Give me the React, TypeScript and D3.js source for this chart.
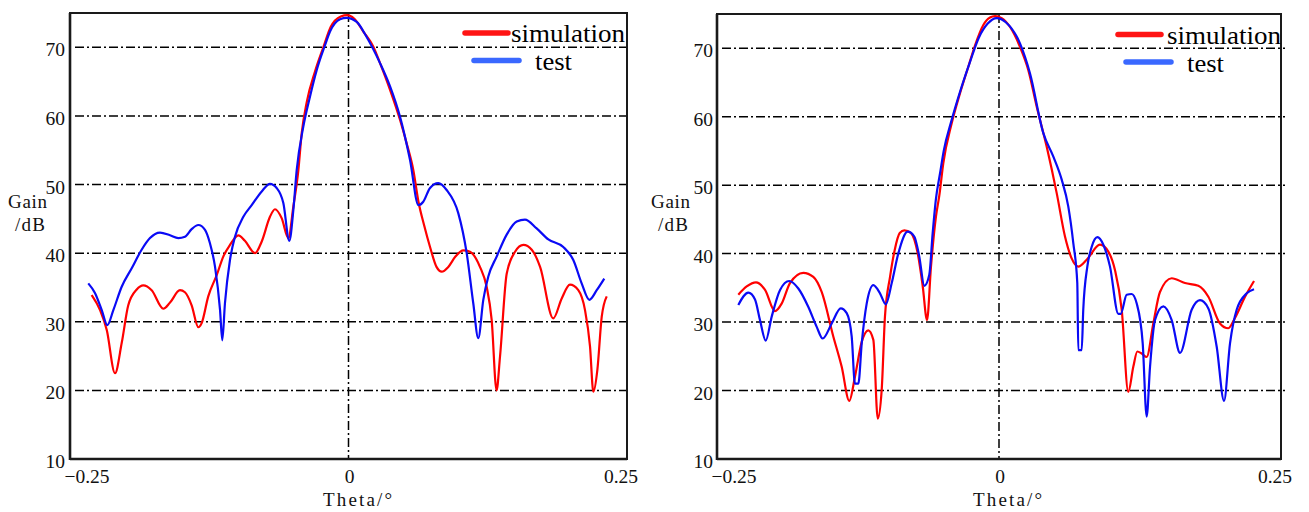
import React from 'react';
import * as d3 from 'd3';

type Pt = [number, number];

const X_TICKS: number[] = [-0.25, 0, 0.25];
const X_TICK_LABELS: string[] = ['−0.25', '0', '0.25'];
const Y_TICKS: number[] = [10, 20, 30, 40, 50, 60, 70];
const Y_GRID: number[] = [20, 30, 40, 50, 60, 70];
const SERIES_NAMES: string[] = ['simulation', 'test'];

const leftSimulation: Pt[] = [
  [-0.2305, 33.9], [-0.223, 31.7], [-0.217, 28.8], [-0.2096, 22.5], [-0.2036, 26.9], [-0.1977, 32.4],
  [-0.1901, 34.7], [-0.1842, 35.3], [-0.1767, 34.6], [-0.1662, 31.9], [-0.1602, 32.8], [-0.1513, 34.6],
  [-0.1468, 34.3], [-0.1408, 32.4], [-0.1348, 29.2], [-0.1318, 29.8], [-0.1259, 33.7], [-0.1183, 36.8],
  [-0.1124, 39.5], [-0.1064, 41.2], [-0.0989, 42.6], [-0.093, 41.8], [-0.0839, 40.0], [-0.0779, 41.7],
  [-0.0705, 45.3], [-0.066, 46.4], [-0.06, 45.1], [-0.054, 42.2], [-0.0495, 46.8], [-0.045, 52.1],
  [-0.042, 57.5], [-0.0375, 62.0], [-0.03, 66.5], [-0.0226, 70.0], [-0.0159, 73.0], [-0.0069, 74.5],
  [-0.001, 74.7], [0.005, 74.2], [0.0133, 72.3], [0.0223, 70.1], [0.0283, 67.7], [0.0373, 63.8],
  [0.0463, 59.4], [0.0522, 56.0], [0.0582, 52.1], [0.0628, 47.5], [0.068, 44.0], [0.0732, 40.9],
  [0.079, 38.0], [0.0837, 37.3], [0.0896, 38.0], [0.096, 39.5], [0.1031, 40.4], [0.1091, 40.2],
  [0.118, 38.0], [0.124, 35.1], [0.1285, 30.3], [0.1329, 20.0], [0.136, 24.9], [0.142, 37.0],
  [0.1495, 40.2], [0.157, 41.2], [0.1645, 40.5], [0.172, 38.0], [0.1838, 30.5], [0.1914, 33.4],
  [0.1988, 35.4], [0.2063, 34.6], [0.2123, 31.7], [0.2168, 26.4], [0.2198, 19.8], [0.2234, 23.0],
  [0.2273, 30.7], [0.2318, 33.7],
];

const leftTest: Pt[] = [
  [-0.2336, 35.6], [-0.2276, 34.2], [-0.2215, 31.7], [-0.2165, 29.5], [-0.2111, 31.7], [-0.2036, 35.1],
  [-0.1946, 37.8], [-0.1857, 40.5], [-0.1782, 42.2], [-0.1692, 43.0], [-0.1602, 42.6], [-0.1528, 42.2],
  [-0.1468, 42.4], [-0.1408, 43.5], [-0.1348, 44.1], [-0.1288, 43.4], [-0.1243, 41.4], [-0.1198, 38.0],
  [-0.1153, 31.7], [-0.1133, 27.3], [-0.1109, 32.7], [-0.1064, 39.0], [-0.1019, 42.4], [-0.0944, 45.3],
  [-0.0869, 47.0], [-0.0779, 49.0], [-0.0705, 50.1], [-0.0645, 49.5], [-0.0585, 47.3], [-0.0531, 41.8],
  [-0.0495, 46.3], [-0.0465, 52.1], [-0.0406, 58.4], [-0.0346, 62.8], [-0.0285, 66.7], [-0.0211, 70.3],
  [-0.0166, 72.3], [-0.0076, 74.1], [-0.0016, 74.3], [0.0074, 73.7], [0.0163, 71.5], [0.0283, 67.7],
  [0.0373, 64.3], [0.0462, 59.9], [0.0552, 53.6], [0.0628, 47.0], [0.0671, 47.5], [0.0732, 49.5],
  [0.0806, 50.2], [0.0881, 49.2], [0.0986, 45.8], [0.1061, 40.0], [0.112, 32.7], [0.1165, 27.6],
  [0.121, 33.2], [0.1255, 36.6], [0.133, 39.5], [0.142, 42.7], [0.151, 44.6], [0.1584, 44.9],
  [0.1689, 43.6], [0.1794, 42.0], [0.1928, 40.9], [0.2018, 39.0], [0.2093, 35.6], [0.2162, 33.2],
  [0.2228, 34.6], [0.2296, 36.3],
];

const rightSimulation: Pt[] = [
  [-0.2311, 34.0], [-0.2237, 35.2], [-0.2154, 35.8], [-0.2074, 34.7], [-0.1986, 31.6], [-0.1927, 32.7],
  [-0.1853, 35.7], [-0.1735, 37.2], [-0.1646, 36.6], [-0.1572, 34.4], [-0.1469, 27.9], [-0.1395, 23.5],
  [-0.1327, 18.5], [-0.1277, 22.0], [-0.1217, 27.1], [-0.1159, 28.8], [-0.1114, 27.4], [-0.1075, 15.9],
  [-0.104, 20.1], [-0.1011, 30.8], [-0.0966, 36.6], [-0.0925, 40.5], [-0.088, 43.0], [-0.0839, 43.4],
  [-0.078, 43.0], [-0.072, 40.0], [-0.0676, 35.2], [-0.0638, 30.3], [-0.0603, 38.1], [-0.0559, 45.4],
  [-0.0529, 48.5], [-0.0494, 53.2], [-0.042, 59.0], [-0.0346, 63.4], [-0.0272, 67.3], [-0.0213, 70.4],
  [-0.0139, 73.4], [-0.008, 74.5], [-0.0035, 74.7], [0.0024, 74.4], [0.0098, 73.1], [0.0186, 70.2],
  [0.026, 66.8], [0.0334, 61.5], [0.0423, 55.6], [0.0512, 48.8], [0.0585, 42.5], [0.0644, 39.3],
  [0.0703, 38.1], [0.0777, 39.1], [0.0895, 41.3], [0.0969, 40.3], [0.1028, 37.6], [0.1088, 31.8],
  [0.1146, 19.8], [0.1191, 23.5], [0.1226, 25.7], [0.1265, 25.4], [0.1309, 24.9], [0.1368, 29.8],
  [0.1427, 34.4], [0.1531, 36.4], [0.1649, 35.7], [0.1767, 35.3], [0.1856, 33.7], [0.1959, 29.8],
  [0.2033, 29.1], [0.2092, 30.6], [0.2181, 33.7], [0.2261, 36.0],
];

const rightTest: Pt[] = [
  [-0.2311, 32.5], [-0.2222, 34.3], [-0.2163, 33.3], [-0.2119, 30.3], [-0.2068, 27.3], [-0.2015, 30.8],
  [-0.1941, 34.7], [-0.1859, 36.0], [-0.1779, 34.9], [-0.169, 32.2], [-0.1616, 29.3], [-0.1563, 27.6],
  [-0.1483, 29.8], [-0.1403, 32.0], [-0.135, 31.3], [-0.1306, 27.9], [-0.1277, 21.0], [-0.1247, 21.0],
  [-0.1217, 26.9], [-0.1173, 32.7], [-0.1114, 35.4], [-0.1055, 34.2], [-0.1004, 32.6], [-0.0951, 35.7],
  [-0.0893, 40.0], [-0.0809, 43.2], [-0.0751, 42.5], [-0.0707, 39.6], [-0.0662, 35.3], [-0.0618, 36.9],
  [-0.0588, 43.0], [-0.0559, 48.0], [-0.0523, 51.7], [-0.049, 55.0], [-0.042, 59.5], [-0.0346, 63.6],
  [-0.0257, 68.0], [-0.018, 71.5], [-0.01, 73.6], [-0.002, 74.4], [0.006, 73.8], [0.0186, 70.7],
  [0.0275, 66.3], [0.0393, 57.6], [0.0481, 54.2], [0.0556, 50.8], [0.0614, 46.9], [0.0659, 41.5],
  [0.0694, 35.7], [0.0703, 25.9], [0.0733, 25.9], [0.0747, 31.8], [0.0783, 38.1], [0.0822, 41.0],
  [0.0872, 42.4], [0.0925, 41.3], [0.0984, 38.1], [0.1058, 31.2], [0.1079, 31.2], [0.1132, 34.0],
  [0.1176, 34.1], [0.1221, 32.7], [0.1274, 26.9], [0.1309, 16.2], [0.1339, 23.5], [0.1383, 30.3],
  [0.1457, 32.3], [0.1531, 30.3], [0.1605, 25.5], [0.1708, 31.8], [0.1782, 33.2], [0.1856, 32.0],
  [0.193, 26.4], [0.1995, 18.5], [0.2048, 26.9], [0.2107, 31.8], [0.2196, 34.2], [0.2261, 34.8],
];

interface PanelCfg {
  sim: Pt[];
  test: Pt[];
  left: number;
  right: number;
  top: number;
  bottom: number;
  labelEnd: number;
  gainX: number;
  thetaX: number;
  legendRedX: number;
  legendBlueX: number;
  legendTextX: number;
  legendTestX: number;
  legendY: number;
}

const panels: PanelCfg[] = [
  {
    sim: leftSimulation, test: leftTest,
    left: 70, right: 627, top: 13, bottom: 459,
    labelEnd: 65, gainX: 8, thetaX: 323,
    legendRedX: 465, legendBlueX: 474, legendTextX: 511, legendTestX: 535, legendY: 33,
  },
  {
    sim: rightSimulation, test: rightTest,
    left: 717, right: 1281, top: 14, bottom: 459,
    labelEnd: 713, gainX: 651, thetaX: 973,
    legendRedX: 1118, legendBlueX: 1126, legendTextX: 1167, legendTestX: 1187, legendY: 34.5,
  },
];

const DASH = '9,3,2,3';
const RED = '#ff0000';
const BLUE = '#0a0af5';
const LEG_RED = '#ff1414';
const LEG_BLUE = '#3a68ff';
const SERIF = "'Liberation Serif', 'DejaVu Serif', serif";

function Panel({ p }: { p: PanelCfg }) {
  const x = d3.scaleLinear().domain([-0.25, 0.25]).range([p.left, p.right]);
  const y = d3.scaleLinear().domain([10, 75]).range([p.bottom, p.top]);
  const line = d3
    .line<Pt>()
    .x((d) => x(d[0]))
    .y((d) => y(d[1]))
    .curve(d3.curveMonotoneX);

  const xLabelOffsets = [17, 1, -6];

  return (
    <g>
      {Y_GRID.map((v) => (
        <line
          key={'g' + v}
          x1={p.left + 5}
          x2={p.right + 4}
          y1={y(v)}
          y2={y(v)}
          stroke="#000"
          strokeWidth={1.5}
          strokeDasharray={DASH}
        />
      ))}
      <line
        x1={x(0)}
        x2={x(0)}
        y1={p.top}
        y2={p.bottom}
        stroke="#000"
        strokeWidth={1.5}
        strokeDasharray={DASH}
      />

      <path d={line(p.sim) || ''} fill="none" stroke={RED} strokeWidth={2.2} strokeLinejoin="round" />
      <path d={line(p.test) || ''} fill="none" stroke={BLUE} strokeWidth={2.2} strokeLinejoin="round" />

      <rect
        x={p.left}
        y={p.top}
        width={p.right - p.left}
        height={p.bottom - p.top}
        fill="none"
        stroke="#1a1a1a"
        strokeWidth={2}
      />
      <line x1={p.left} x2={p.left} y1={p.top} y2={p.bottom + 1} stroke="#1a1a1a" strokeWidth={2.6} />
      <line x1={p.left} x2={p.right} y1={p.bottom} y2={p.bottom} stroke="#1a1a1a" strokeWidth={2.6} />

      {Y_TICKS.map((v) => (
        <text
          key={'y' + v}
          x={p.labelEnd}
          y={y(v) + 9}
          textAnchor="end"
          fontFamily={SERIF}
          fontSize={19.5}
          fill="#111"
        >
          {v}
        </text>
      ))}

      {X_TICKS.map((v, i) => (
        <text
          key={'x' + v}
          x={x(v) + xLabelOffsets[i]}
          y={p.bottom + 24}
          textAnchor="middle"
          fontFamily={SERIF}
          fontSize={19.5}
          fill="#111"
        >
          {X_TICK_LABELS[i]}
        </text>
      ))}

      <text
        x={p.gainX}
        y={208}
        fontFamily={SERIF}
        fontSize={19}
        textLength={39}
        lengthAdjust="spacing"
        fill="#111"
      >
        Gain
      </text>
      <text
        x={p.gainX + 7}
        y={231}
        fontFamily={SERIF}
        fontSize={19}
        textLength={30}
        lengthAdjust="spacing"
        fill="#111"
      >
        /dB
      </text>
      <text
        x={p.thetaX}
        y={506}
        fontFamily={SERIF}
        fontSize={19}
        textLength={69}
        lengthAdjust="spacing"
        fill="#111"
      >
        Theta/°
      </text>

      <line
        x1={p.legendRedX}
        x2={p.legendRedX + 43}
        y1={p.legendY}
        y2={p.legendY}
        stroke={LEG_RED}
        strokeWidth={5.5}
        strokeLinecap="round"
      />
      <text
        x={p.legendTextX}
        y={p.legendY + 9}
        fontFamily="'Liberation Serif', 'Times New Roman', serif"
        fontSize={25}
        textLength={114}
        lengthAdjust="spacingAndGlyphs"
        fill="#000"
      >
        {SERIES_NAMES[0]}
      </text>
      <line
        x1={p.legendBlueX}
        x2={p.legendBlueX + 45}
        y1={p.legendY + 27.5}
        y2={p.legendY + 27.5}
        stroke={LEG_BLUE}
        strokeWidth={5.5}
        strokeLinecap="round"
      />
      <text
        x={p.legendTestX}
        y={p.legendY + 37}
        fontFamily="'Liberation Serif', 'Times New Roman', serif"
        fontSize={25}
        textLength={37}
        lengthAdjust="spacingAndGlyphs"
        fill="#000"
      >
        {SERIES_NAMES[1]}
      </text>
    </g>
  );
}

export default function App() {
  return (
    <svg
      width={1309}
      height={512}
      viewBox="0 0 1309 512"
      style={{ position: 'absolute', left: 0, top: 0, background: '#fff' }}
    >
      <rect x={0} y={0} width={1309} height={512} fill="#fff" />
      {panels.map((p, i) => (
        <Panel key={i} p={p} />
      ))}
    </svg>
  );
}
